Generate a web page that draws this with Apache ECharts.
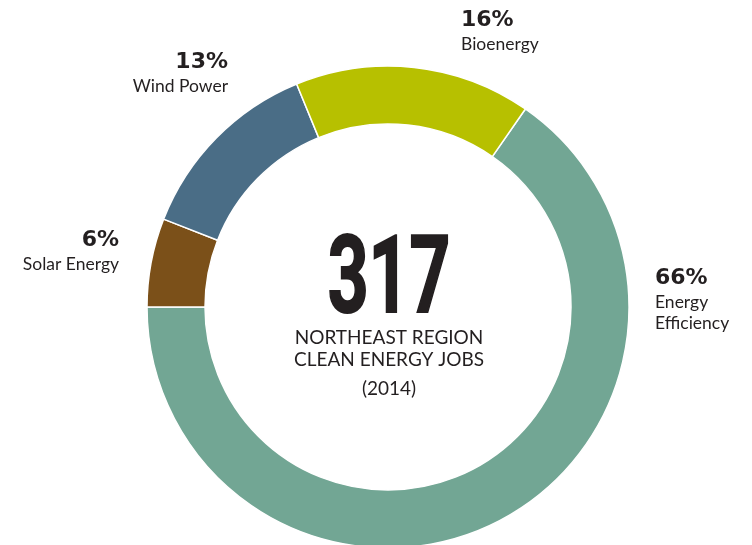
<!DOCTYPE html>
<html>
<head>
<meta charset="utf-8">
<script src="https://cdn.jsdelivr.net/npm/echarts@6/dist/echarts.min.js"></script>
<style>
html,body{margin:0;padding:0;background:#fff;}
#chart{width:752px;height:545px;}
</style>
</head>
<body>
<div id="chart"></div>
<script>
const categories = ['Energy Efficiency', 'Solar Energy', 'Wind Power', 'Bioenergy'];
const values = [66, 6, 13, 16];
const colors = ['#72a694', '#7b5019', '#4a6d86', '#b7c000'];
const labelNames = [['Energy', 'Efficiency'], ['Solar Energy'], ['Wind Power'], ['Bioenergy']];
const totalJobs = '317';
const centerLines = ['NORTHEAST REGION', 'CLEAN ENERGY JOBS', '(2014)'];

const total = values.reduce((a, b) => a + b, 0);
const startAngle = 180 - 360 + values[0] / total * 360;

// label anchor positions: [x, y, align]
const labelPos = [
  [655, 267, 'left'],
  [119, 229, 'right'],
  [228, 51, 'right'],
  [461, 9, 'left']
];

const textColor = '#231f20';
const graphics = [];
categories.forEach((c, i) => {
  const [x, y, align] = labelPos[i];
  graphics.push({
    type: 'text', x: x, y: y,
    style: { text: values[i] + '%', fill: textColor, font: 'bold 22px "DejaVu Sans"', align: align, verticalAlign: 'top' }
  });
  labelNames[i].forEach((t, j) => {
    graphics.push({
      type: 'text', x: x, y: y + 26 + j * 21,
      style: { text: t, fill: textColor, font: '17.5px Lato', align: align, verticalAlign: 'top' }
    });
  });
});

graphics.push({
  type: 'text', x: 389, y: 231, scaleX: 0.66, originX: 0,
  style: { text: totalJobs, fill: textColor, stroke: textColor, lineWidth: 2, font: 'bold 108px Roboto', align: 'center', verticalAlign: 'top' }
});
graphics.push({
  type: 'text', x: 389, y: 328,
  style: { text: centerLines[0], fill: textColor, font: '19px Lato', align: 'center', verticalAlign: 'top' }
});
graphics.push({
  type: 'text', x: 389, y: 350,
  style: { text: centerLines[1], fill: textColor, font: '19px Lato', align: 'center', verticalAlign: 'top' }
});
graphics.push({
  type: 'text', x: 389, y: 379,
  style: { text: centerLines[2], fill: textColor, font: '19px Lato', align: 'center', verticalAlign: 'top' }
});

const chart = echarts.init(document.getElementById('chart'), null, { renderer: 'canvas' });
chart.setOption({
  backgroundColor: '#ffffff',
  animation: false,
  series: [{
    type: 'pie',
    center: [388, 307],
    radius: [183, 241],
    startAngle: startAngle,
    clockwise: true,
    label: { show: false },
    labelLine: { show: false },
    silent: true,
    itemStyle: { borderColor: '#ffffff', borderWidth: 1.5 },
    data: categories.map((c, i) => ({ name: c, value: values[i], itemStyle: { color: colors[i] } }))
  }],
  graphic: graphics
});
</script>
</body>
</html>
